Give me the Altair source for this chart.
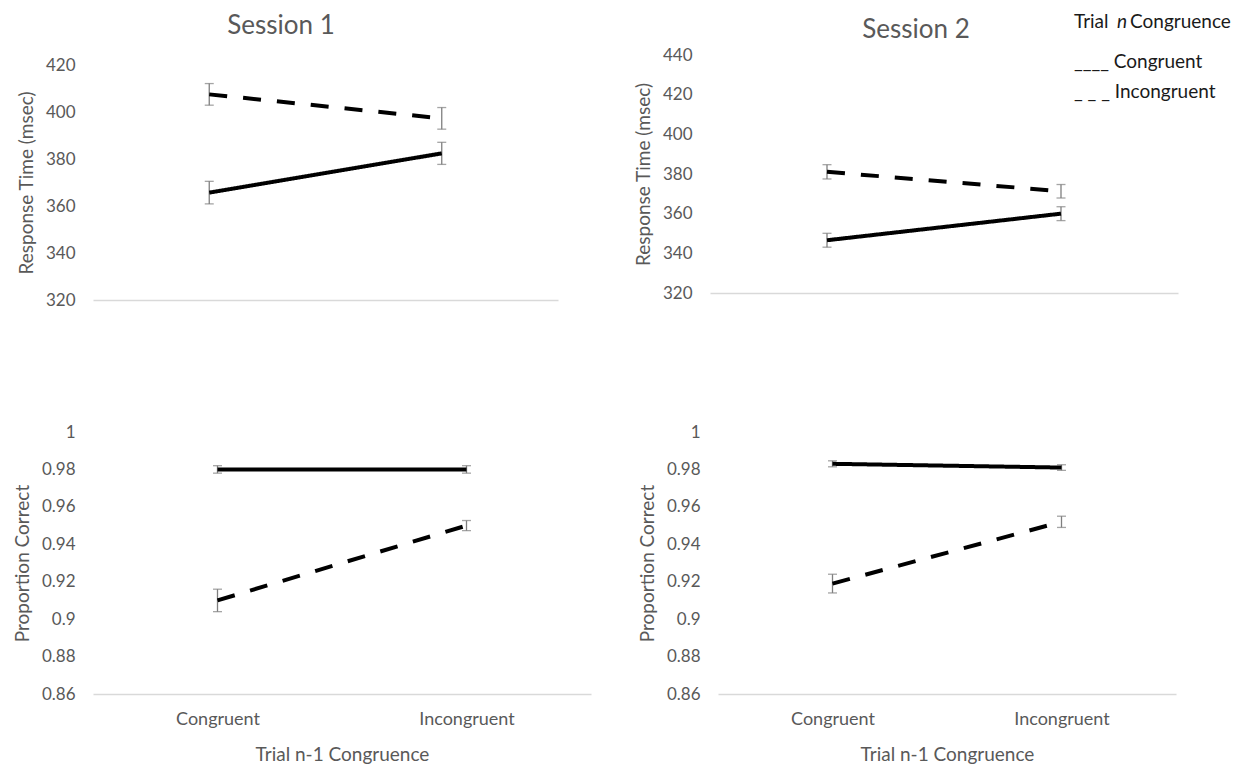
import altair as alt
import pandas as pd

# Trial n-1 congruence (x categories)
prev_conds = ["Congruent", "Incongruent"]
# Trial n congruence (series)
series_names = ["Congruent", "Incongruent"]

# Response time (msec) - Session 1
rt_s1_cong = [365.7, 382.4]
rt_s1_cong_err = [4.8, 4.7]
rt_s1_incong = [407.5, 397.3]
rt_s1_incong_err = [4.6, 4.6]

# Response time (msec) - Session 2
rt_s2_cong = [346.6, 360.0]
rt_s2_cong_err = [3.5, 3.5]
rt_s2_incong = [381.1, 371.3]
rt_s2_incong_err = [3.6, 3.4]

# Proportion correct - Session 1
pc_s1_cong = [0.980, 0.980]
pc_s1_cong_err = [0.002, 0.002]
pc_s1_incong = [0.910, 0.950]
pc_s1_incong_err = [0.006, 0.0027]

# Proportion correct - Session 2
pc_s2_cong = [0.983, 0.981]
pc_s2_cong_err = [0.0016, 0.0015]
pc_s2_incong = [0.919, 0.952]
pc_s2_incong_err = [0.005, 0.003]

rt_ticks_s1 = [320, 340, 360, 380, 400, 420]
rt_ticks_s2 = [320, 340, 360, 380, 400, 420, 440]
pc_ticks = [0.86, 0.88, 0.90, 0.92, 0.94, 0.96, 0.98, 1.0]

FONT = "Lato"
GRAY = "#595959"
INK = "#1a1a1a"


def make_df(cv, ce, iv, ie):
    rows = []
    for s, vals, errs in [(series_names[0], cv, ce), (series_names[1], iv, ie)]:
        for p, v, e in zip(prev_conds, vals, errs):
            rows.append({"prev": p, "series": s, "val": v, "lo": v - e, "hi": v + e})
    return pd.DataFrame(rows)


def text_layer(txt, x, y, size, color, style="normal", align="left"):
    return alt.Chart(pd.DataFrame({"k": [0]})).mark_text(
        font=FONT, fontSize=size, color=color, fontStyle=style, align=align, baseline="middle"
    ).encode(x=alt.value(x), y=alt.value(y), text=alt.value(txt))


def panel(df, domain, yvals, w, h, ytitle, fmt, bottom, extras, yrange=None):
    if bottom:
        xaxis = alt.Axis(title="Trial n-1 Congruence", labelAngle=0, ticks=False,
                         domainColor="#d9d9d9", domainWidth=1.5, labelFont=FONT, labelFontSize=18,
                         labelColor=GRAY, labelPadding=16, titleFont=FONT, titleFontSize=19,
                         titleFontWeight="normal", titleColor=GRAY, titlePadding=17)
    else:
        xaxis = alt.Axis(title=None, labels=False, ticks=False, domainColor="#d9d9d9",
                         domainWidth=1.5)
    x = alt.X("prev:N", sort=prev_conds, scale=alt.Scale(type="point", padding=0.5), axis=xaxis)
    if yrange is None:
        yscale = alt.Scale(domain=domain, nice=False, zero=False)
    else:
        yscale = alt.Scale(domain=domain, nice=False, zero=False, range=yrange)
    yaxis = alt.Axis(values=yvals, format=fmt, domain=False, ticks=False, grid=False,
                     labelFont=FONT, labelFontSize=17, labelColor=GRAY, labelPadding=18,
                     title=ytitle, titleFont=FONT, titleFontSize=19, titleFontWeight="normal",
                     titleColor=GRAY, titlePadding=9)
    base = alt.Chart(df)
    rules = base.mark_rule(color="#7f7f7f", strokeWidth=1.3).encode(
        x=x, y=alt.Y("lo:Q", scale=yscale, axis=yaxis), y2="hi:Q")
    cap_lo = base.mark_tick(color="#7f7f7f", size=9, thickness=1.3).encode(
        x=x, y=alt.Y("lo:Q", scale=yscale, axis=yaxis))
    cap_hi = base.mark_tick(color="#7f7f7f", size=9, thickness=1.3).encode(
        x=x, y=alt.Y("hi:Q", scale=yscale, axis=yaxis))
    lines = base.mark_line(color="black", strokeWidth=4).encode(
        x=x, y=alt.Y("val:Q", scale=yscale, axis=yaxis),
        strokeDash=alt.StrokeDash("series:N", scale=alt.Scale(domain=series_names,
                                  range=[[1, 0], [18, 16]]), legend=None),
        detail="series:N")
    return alt.layer(rules, cap_lo, cap_hi, lines, *extras).properties(width=w, height=h)


tl = panel(make_df(rt_s1_cong, rt_s1_cong_err, rt_s1_incong, rt_s1_incong_err),
           [320, 420], rt_ticks_s1, 465, 235, "Response Time  (msec)", "d", False,
           [text_layer("Session 1", 188, -39, 26, GRAY, align="center")])

tr = panel(make_df(rt_s2_cong, rt_s2_cong_err, rt_s2_incong, rt_s2_incong_err),
           [320, 440], rt_ticks_s2, 468, 228, "Response Time  (msec)", "d", False,
           [text_layer("Session 2", 206, -35, 26, GRAY, align="center"),
            text_layer("Trial", 364, -43, 19, INK),
            text_layer("n", 407, -43, 19, INK, style="italic"),
            text_layer("Congruence", 420, -43, 19, INK),
            text_layer("____ Congruent", 364, -3, 19, INK),
            text_layer("_ _ _ Incongruent", 364, 27, 19, INK)],
           yrange=[228, -10])

bl = panel(make_df(pc_s1_cong, pc_s1_cong_err, pc_s1_incong, pc_s1_incong_err),
           [0.86, 1.0], pc_ticks, 498, 262, "Proportion Correct", ".2~f", True, [])

br = panel(make_df(pc_s2_cong, pc_s2_cong_err, pc_s2_incong, pc_s2_incong_err),
           [0.86, 1.0], pc_ticks, 458, 262, "Proportion Correct", ".2~f", True, [])

chart = alt.vconcat(
    alt.hconcat(tl, tr, spacing=76),
    alt.hconcat(bl, br, spacing=47),
    spacing=115,
).configure_view(stroke=None).properties(
    background="white", padding={"left": 5, "top": 5, "right": 5, "bottom": 5})

chart.save("out.html", embed_options={"renderer": "svg", "actions": False})
